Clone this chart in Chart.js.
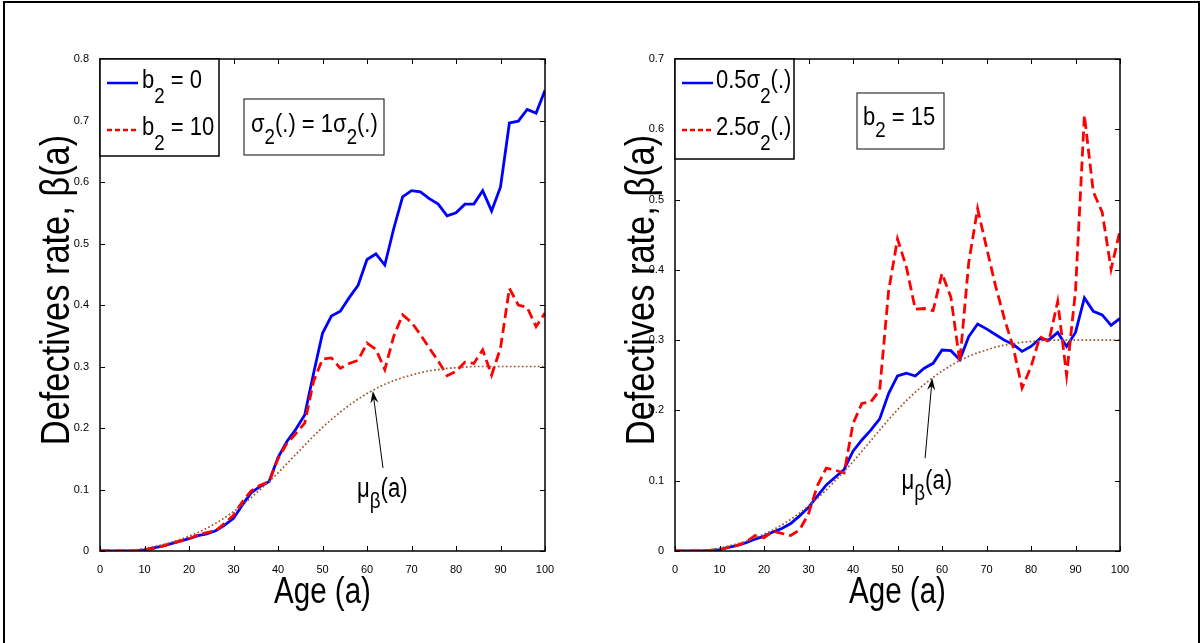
<!DOCTYPE html>
<html>
<head>
<meta charset="utf-8">
<script src="https://cdn.jsdelivr.net/npm/chart.js@4.4.1/dist/chart.umd.min.js"></script>
<style>
body { margin: 0; background: #fff; width: 1202px; height: 643px; overflow: hidden; position: relative; }
#frame { position: absolute; left: 3px; top: 1px; width: 1197px; height: 700px; border: 2px solid #000; box-sizing: border-box; }
canvas { position: absolute; top: 0; }
#left { left: 0; }
#right { left: 600px; }
</style>
</head>
<body>
<div id="frame"></div>
<canvas id="left" width="600" height="643"></canvas>
<canvas id="right" width="602" height="643"></canvas>
<script>
// ages, every 2 years
const ages = [0, 2, 4, 6, 8, 10, 12, 14, 16, 18, 20, 22, 24, 26, 28, 30, 32, 34, 36, 38, 40, 42, 44, 46, 48,
  50, 52, 54, 56, 58, 60, 62, 64, 66, 68, 70, 72, 74, 76, 78, 80, 82, 84, 86, 88, 90, 92, 94, 96, 98, 100];

// left panel: sigma2(.) = 1 sigma2(.)
const blueB0 = [0, 0, 0, 0, 0, 0.002, 0.005, 0.008, 0.012, 0.016, 0.02, 0.025, 0.028, 0.033, 0.042,
  0.053, 0.075, 0.095, 0.105, 0.113, 0.152, 0.178, 0.198, 0.221, 0.289, 0.354, 0.382, 0.39, 0.412, 0.432,
  0.474, 0.483, 0.465, 0.524, 0.576, 0.586, 0.584, 0.573, 0.564, 0.545, 0.55, 0.564, 0.564, 0.586, 0.553,
  0.592, 0.696, 0.699, 0.718, 0.712, 0.749];
const redB10 = [0, 0, 0, 0, 0, 0.002, 0.004, 0.008, 0.012, 0.016, 0.02, 0.026, 0.03, 0.033, 0.045,
  0.058, 0.08, 0.098, 0.107, 0.113, 0.15, 0.175, 0.191, 0.208, 0.276, 0.312, 0.314, 0.297, 0.305, 0.31,
  0.338, 0.328, 0.295, 0.349, 0.384, 0.372, 0.352, 0.33, 0.309, 0.285, 0.292, 0.307, 0.305, 0.327, 0.286,
  0.33, 0.427, 0.4, 0.396, 0.365, 0.387];

// mean curve mu_beta(a), same in both panels
const muBeta = [0, 0, 0, 0.001, 0.002, 0.004, 0.007, 0.01, 0.014, 0.019, 0.024, 0.03, 0.037, 0.045, 0.054,
  0.064, 0.075, 0.087, 0.1, 0.113, 0.127, 0.142, 0.157, 0.172, 0.187, 0.201, 0.214, 0.226, 0.237, 0.247,
  0.256, 0.264, 0.271, 0.277, 0.282, 0.286, 0.29, 0.293, 0.295, 0.297, 0.298, 0.299, 0.3, 0.3, 0.3,
  0.3, 0.3, 0.3, 0.3, 0.3, 0.3];

// right panel: b2 = 15
const blueHalfSigma = [0, 0, 0, 0, 0.001, 0.002, 0.005, 0.008, 0.012, 0.017, 0.021, 0.027, 0.032, 0.039, 0.05,
  0.062, 0.078, 0.094, 0.105, 0.116, 0.142, 0.158, 0.172, 0.188, 0.224, 0.249, 0.253, 0.249, 0.26, 0.267,
  0.286, 0.285, 0.272, 0.305, 0.323, 0.316, 0.308, 0.3, 0.294, 0.284, 0.291, 0.302, 0.3, 0.311, 0.291,
  0.311, 0.36, 0.341, 0.336, 0.321, 0.331];
const redTwoHalfSigma = [0, 0, 0, 0, 0.001, 0.002, 0.005, 0.008, 0.013, 0.022, 0.019, 0.028, 0.025, 0.022, 0.03,
  0.053, 0.093, 0.118, 0.115, 0.111, 0.181, 0.21, 0.212, 0.229, 0.37, 0.444, 0.404, 0.344, 0.345, 0.342,
  0.395, 0.361, 0.269, 0.41, 0.487, 0.432, 0.378, 0.331, 0.29, 0.232, 0.262, 0.305, 0.298, 0.355, 0.25,
  0.37, 0.62, 0.511, 0.482, 0.401, 0.456];

const BLUE = '#0000ff', RED = '#ff0000', BROWN = '#a0522d';
const SANS = '"Liberation Sans", Arial, sans-serif';
const NARROW = 0.82; // horizontal squeeze, the original uses a condensed face

const pts = vals => ages.map((a, i) => ({x: a, y: vals[i]}));

// squeezed text with subscripts: parts = [[text, isSub], ...]
function rich(ctx, parts, x, y, size, shift, sx) {
  sx = sx || NARROW;
  ctx.textAlign = 'left';
  ctx.textBaseline = 'alphabetic';
  parts.forEach(([t, sub]) => {
    const fs = sub ? size * 0.85 : size;
    ctx.font = fs + 'px ' + SANS;
    ctx.save();
    ctx.translate(x, sub ? y + size * shift : y);
    ctx.scale(sx, 1);
    ctx.fillText(t, 0, 0);
    ctx.restore();
    x += ctx.measureText(t).width * sx;
  });
}

function richWidth(ctx, parts, size, sx) {
  let w = 0;
  parts.forEach(([t, sub]) => {
    ctx.font = (sub ? size * 0.85 : size) + 'px ' + SANS;
    w += ctx.measureText(t).width * sx;
  });
  return w;
}

function arrow(ctx, x1, y1, x2, y2) {
  const ang = Math.atan2(y2 - y1, x2 - x1), c = Math.cos(ang), s = Math.sin(ang);
  ctx.beginPath();
  ctx.moveTo(x1, y1);
  ctx.lineTo(x2 - 6 * c, y2 - 6 * s);
  ctx.stroke();
  ctx.beginPath();
  ctx.moveTo(x2, y2);
  ctx.lineTo(x2 - 12 * c + 4 * s, y2 - 12 * s - 4 * c);
  ctx.lineTo(x2 - 8 * c, y2 - 8 * s);
  ctx.lineTo(x2 - 12 * c - 4 * s, y2 - 12 * s + 4 * c);
  ctx.closePath();
  ctx.fill();
}

const boxPlugin = {
  id: 'extras',
  afterDatasetsDraw(chart, args, o) {
    const {ctx, chartArea: a, scales: {x, y}} = chart;
    ctx.save();
    ctx.strokeStyle = '#000';
    ctx.fillStyle = '#000';
    // axes box
    ctx.lineWidth = 1.5;
    ctx.strokeRect(a.left, a.top, a.right - a.left, a.bottom - a.top);
    // inward ticks on all sides
    ctx.lineWidth = 1;
    ctx.beginPath();
    x.ticks.forEach(t => {
      const p = Math.round(x.getPixelForValue(t.value)) + 0.5;
      ctx.moveTo(p, a.bottom); ctx.lineTo(p, a.bottom - 5);
      ctx.moveTo(p, a.top); ctx.lineTo(p, a.top + 5);
    });
    y.ticks.forEach(t => {
      const p = Math.round(y.getPixelForValue(t.value)) + 0.5;
      ctx.moveTo(a.left, p); ctx.lineTo(a.left + 5, p);
      ctx.moveTo(a.right, p); ctx.lineTo(a.right - 5, p);
    });
    ctx.stroke();

    // axis titles
    const xt = [['Age (a)']];
    rich(ctx, xt, (a.left + a.right) / 2 - richWidth(ctx, xt, 36, NARROW) / 2, a.bottom + 52, 36, 0);
    const yt = [['Defectives rate, \u03b2(a)']];
    ctx.save();
    ctx.translate(a.left - o.yTitleGap, (a.top + a.bottom) / 2 - 15);
    ctx.rotate(-Math.PI / 2);
    rich(ctx, yt, -richWidth(ctx, yt, 40, 0.86) / 2, 0, 40, 0, 0.86);
    ctx.restore();

    // legend
    const L = o.legend;
    ctx.fillStyle = '#fff';
    ctx.fillRect(a.left, a.top, L.w, L.h);
    ctx.lineWidth = 1.5;
    ctx.strokeRect(a.left, a.top, L.w, L.h);
    L.rows.forEach(r => {
      ctx.strokeStyle = r.color;
      ctx.lineWidth = 2.5;
      ctx.setLineDash(r.dash);
      ctx.beginPath();
      ctx.moveTo(a.left + 7, a.top + r.dy);
      ctx.lineTo(a.left + 38, a.top + r.dy);
      ctx.stroke();
      ctx.setLineDash([]);
      ctx.fillStyle = '#000';
      rich(ctx, r.parts, a.left + L.tx, a.top + r.dy + 5, 25, 0.58, 0.88);
    });

    // text box
    const B = o.box;
    ctx.fillStyle = '#fff';
    ctx.fillRect(a.left + B.dx, a.top + B.dy, B.w, B.h);
    ctx.strokeStyle = '#333';
    ctx.lineWidth = 1.2;
    ctx.strokeRect(a.left + B.dx, a.top + B.dy, B.w, B.h);
    ctx.fillStyle = '#000';
    rich(ctx, B.parts, a.left + B.dx + B.tx, a.top + B.dy + B.ty, 25, 0.48, 0.88);

    // mu_beta(a) annotation
    const N = o.note;
    ctx.strokeStyle = '#000';
    ctx.lineWidth = 1;
    arrow(ctx, x.getPixelForValue(N.tail[0]), y.getPixelForValue(N.tail[1]),
      x.getPixelForValue(N.head[0]), y.getPixelForValue(N.head[1]));
    rich(ctx, [['\u03bc'], ['\u03b2', 1], ['(a)']], x.getPixelForValue(N.at[0]), y.getPixelForValue(N.at[1]), 27, 0.4);
    ctx.restore();
  }
};

function makeChart(id, cfg) {
  return new Chart(document.getElementById(id), {
    type: 'line',
    data: {
      datasets: [
        {label: 'mu', data: pts(muBeta), borderColor: BROWN, borderWidth: 1.7, borderDash: [1.7, 2.3], pointRadius: 0},
        {label: cfg.names[1], data: pts(cfg.red), borderColor: RED, borderWidth: 2.8, borderDash: [10, 5], pointRadius: 0},
        {label: cfg.names[0], data: pts(cfg.blue), borderColor: BLUE, borderWidth: 2.8, pointRadius: 0}
      ]
    },
    options: {
      responsive: false,
      animation: false,
      devicePixelRatio: 1,
      layout: {padding: {left: 0, top: 59, right: cfg.padRight, bottom: 0}},
      plugins: {legend: {display: false}, tooltip: {enabled: false}, extras: cfg.extras},
      scales: {
        x: {
          type: 'linear', min: 0, max: 100,
          grid: {display: false}, border: {display: false},
          ticks: {stepSize: 10, padding: 4, color: '#000', font: {family: SANS, size: 11}, maxRotation: 0, autoSkip: false},
          afterFit: s => { s.height = 92; }
        },
        y: {
          type: 'linear', min: 0, max: cfg.yMax,
          grid: {display: false}, border: {display: false},
          ticks: {stepSize: 0.1, padding: 3, color: '#000', font: {family: SANS, size: 11},
            callback: v => String(Math.round(v * 10) / 10)},
          afterFit: s => { s.width = cfg.yWidth; }
        }
      }
    },
    plugins: [boxPlugin]
  });
}

makeChart('left', {
  blue: blueB0, red: redB10, names: ['b2 = 0', 'b2 = 10'],
  yMax: 0.8, yWidth: 100, padRight: 55,
  extras: {
    yTitleGap: 31,
    legend: {w: 119, h: 97, tx: 42, rows: [
      {dy: 24, color: BLUE, dash: [], parts: [['b'], ['2', 1], [' = 0']]},
      {dy: 71, color: RED, dash: [5, 3], parts: [['b'], ['2', 1], [' = 10']]}
    ]},
    box: {dx: 144, dy: 40, w: 140, h: 56, tx: 7, ty: 33,
      parts: [['\u03c3'], ['2', 1], ['(.) = 1\u03c3'], ['2', 1], ['(.)']]},
    note: {head: [61.3, 0.26], tail: [63.6, 0.135], at: [57.75, 0.088]}
  }
});

makeChart('right', {
  blue: blueHalfSigma, red: redTwoHalfSigma, names: ['0.5\u03c32(.)', '2.5\u03c32(.)'],
  yMax: 0.7, yWidth: 75, padRight: 82,
  extras: {
    yTitleGap: 21,
    legend: {w: 119, h: 100, tx: 41, rows: [
      {dy: 24, color: BLUE, dash: [], parts: [['0.5\u03c3'], ['2', 1], ['(.)']]},
      {dy: 71, color: RED, dash: [5, 3], parts: [['2.5\u03c3'], ['2', 1], ['(.)']]}
    ]},
    box: {dx: 182, dy: 34, w: 87, h: 56, tx: 6, ty: 32,
      parts: [['b'], ['2', 1], [' = 15']]},
    note: {head: [57.8, 0.246], tail: [56.2, 0.132], at: [50.9, 0.088]}
  }
});
</script>
</body>
</html>
